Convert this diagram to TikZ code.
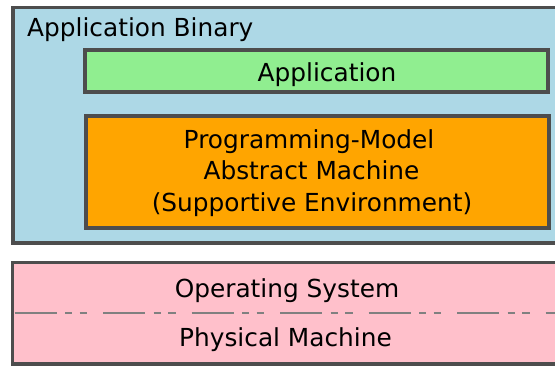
\documentclass[tikz,border=0pt]{standalone}
\usepackage{fontspec}
\setmainfont{DejaVu Sans}
\definecolor{edgegray}{HTML}{4D4D4D}
\definecolor{binblue}{HTML}{ADD8E6}
\definecolor{appgreen}{HTML}{90EE90}
\definecolor{amorange}{HTML}{FFA500}
\definecolor{ospink}{HTML}{FFC0CB}
\begin{document}
\begin{tikzpicture}[x=1pt,y=-1pt,
  box/.style={draw=edgegray,line width=3.6pt},
  lbl/.style={inner sep=0pt,font=\fontsize{24.8pt}{31pt}\selectfont,anchor=base},
  sep/.style={draw=gray,line width=1.4pt,dash pattern=on 42pt off 8.5pt on 7pt off 7.5pt on 7.5pt off 16pt}]
\useasboundingbox (0,0) rectangle (555,365);
\path[box,fill=binblue] (13,7.5) rectangle (565,243);
\path[box,fill=appgreen] (85,50) rectangle (548,92);
\path[box,fill=amorange] (86,116) rectangle (549,228);
\path[box,fill=ospink] (12.5,262.5) rectangle (565,364);
\coordinate (sepL) at (14.5,313);
\coordinate (sepR) at (565,313);
\draw[sep] (sepL) -- (sepR);
\node[lbl,anchor=base west] (bin) at (27,36) {Application Binary};
\node[lbl] (app) at (327,81) {Application};
\node[lbl] (am1) at (309,148.3) {Programming-Model};
\node[lbl] (am2) at (311.5,179.3) {Abstract Machine};
\node[lbl] (am3) at (312,211) {(Supportive Environment)};
\node[lbl] (os) at (287,297) {Operating System};
\node[lbl] (pm) at (285.5,346.5) {Physical Machine};
\end{tikzpicture}
\end{document}
